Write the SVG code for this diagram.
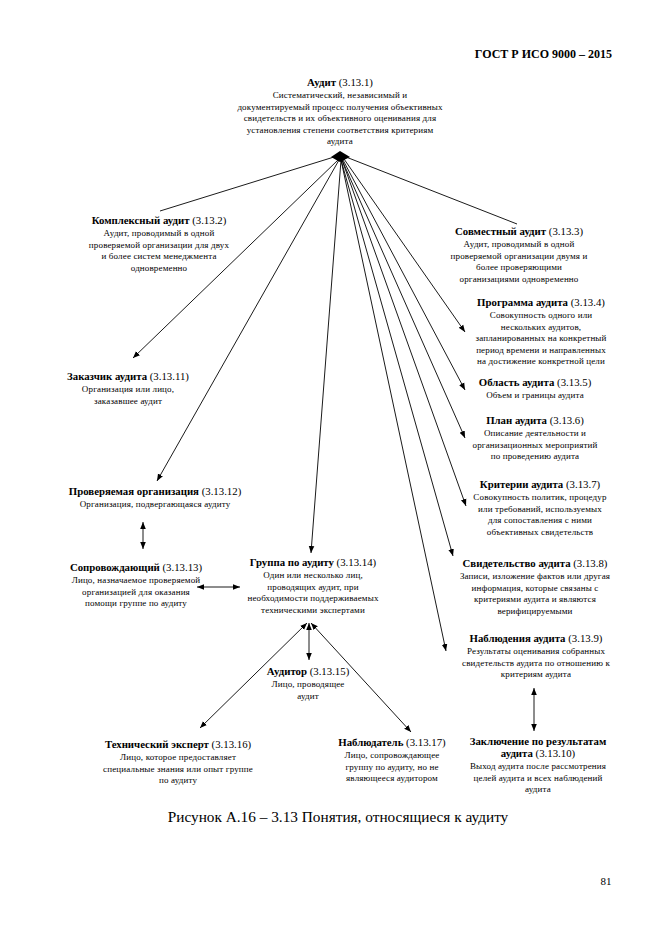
<svg xmlns="http://www.w3.org/2000/svg" width="661" height="935" viewBox="0 0 661 935">
<defs>
<marker id="ah" viewBox="0 0 10 10" refX="10" refY="5" markerWidth="7" markerHeight="7" orient="auto-start-reverse" markerUnits="userSpaceOnUse">
<path d="M0,1 L10,5 L0,9 z" fill="#000"/>
</marker>
<style>
text{font-family:"Liberation Serif","Times New Roman",serif;fill:#000;text-anchor:middle}
.t{font-size:10.8px}
.b{font-weight:bold}
.d{font-size:9px;letter-spacing:0.15px}
.hd{font-size:12px;font-weight:bold;text-anchor:end}
.cap{font-size:15.3px}
.pg{font-size:11px}
.c line{stroke:#000;stroke-width:0.9;fill:none}
.e{marker-end:url(#ah)}
.s{marker-start:url(#ah)}
</style>
</defs>
<rect width="661" height="935" fill="#fff"/>
<text class="hd" x="612" y="58">ГОСТ Р ИСО 9000 – 2015</text>

<g class="c" id="connectors">
<path d="M331,157 L340,151 L350,157 L340,162 z" fill="#000"/>
<line x1="334" y1="157" x2="160" y2="211"/>
<line class="e" x1="338" y1="160" x2="133" y2="358"/>
<line class="e" x1="339" y1="160" x2="157" y2="481"/>
<line class="e" x1="341" y1="160" x2="311" y2="553"/>
<line x1="346" y1="157" x2="517" y2="224"/>
<line class="e" x1="344" y1="159" x2="465" y2="332"/>
<line class="e" x1="343" y1="160" x2="465" y2="390"/>
<line class="e" x1="342" y1="160" x2="465" y2="438"/>
<line class="e" x1="342" y1="160" x2="466" y2="506"/>
<line class="e" x1="341" y1="160" x2="453" y2="556"/>
<line class="e" x1="341" y1="160" x2="446" y2="651"/>
<line class="e s" x1="143" y1="522" x2="143" y2="549"/>
<line class="e s" x1="197" y1="587" x2="240" y2="587"/>
<line class="e s" x1="307" y1="623" x2="200" y2="728"/>
<line class="e s" x1="309" y1="623" x2="309" y2="660"/>
<line class="e s" x1="311" y1="623" x2="411" y2="732"/>
<line class="e s" x1="534" y1="688" x2="534" y2="731"/>
</g>

<g id="n1">
<text class="t" x="340" y="86"><tspan class="b">Аудит</tspan> (3.13.1)</text>
<text class="d" x="340" y="98">Систематический, независимый и</text>
<text class="d" x="340" y="109.5">документируемый процесс получения объективных</text>
<text class="d" x="340" y="121">свидетельств и их объективного оценивания для</text>
<text class="d" x="340" y="132.5">установления степени соответствия критериям</text>
<text class="d" x="340" y="144">аудита</text>
</g>

<g id="n2">
<text class="t" x="159" y="224"><tspan class="b">Комплексный аудит</tspan> (3.13.2)</text>
<text class="d" x="159" y="236">Аудит, проводимый в одной</text>
<text class="d" x="159" y="247.5">проверяемой организации для двух</text>
<text class="d" x="159" y="259">и более систем менеджмента</text>
<text class="d" x="159" y="270.5">одновременно</text>
</g>

<g id="n3">
<text class="t" x="519" y="235"><tspan class="b">Совместный аудит</tspan> (3.13.3)</text>
<text class="d" x="519" y="247">Аудит, проводимый в одной</text>
<text class="d" x="519" y="258.5">проверяемой организации двумя и</text>
<text class="d" x="519" y="270">более проверяющими</text>
<text class="d" x="519" y="281.5">организациями одновременно</text>
</g>

<g id="n4">
<text class="t" x="541" y="306"><tspan class="b">Программа аудита</tspan> (3.13.4)</text>
<text class="d" x="541" y="318">Совокупность одного или</text>
<text class="d" x="541" y="329.5">нескольких аудитов,</text>
<text class="d" x="541" y="341">запланированных на конкретный</text>
<text class="d" x="541" y="352.5">период времени и направленных</text>
<text class="d" x="541" y="364">на достижение конкретной цели</text>
</g>

<g id="n5">
<text class="t" x="535" y="386"><tspan class="b">Область аудита</tspan> (3.13.5)</text>
<text class="d" x="535" y="398">Объем и границы аудита</text>
</g>

<g id="n6">
<text class="t" x="535" y="424"><tspan class="b">План аудита</tspan> (3.13.6)</text>
<text class="d" x="535" y="436">Описание деятельности и</text>
<text class="d" x="535" y="447.5">организационных мероприятий</text>
<text class="d" x="535" y="459">по проведению аудита</text>
</g>

<g id="n7">
<text class="t" x="540" y="488"><tspan class="b">Критерии аудита</tspan> (3.13.7)</text>
<text class="d" x="540" y="500">Совокупность политик, процедур</text>
<text class="d" x="540" y="511.5">или требований, используемых</text>
<text class="d" x="540" y="523">для сопоставления с ними</text>
<text class="d" x="540" y="534.5">объективных свидетельств</text>
</g>

<g id="n8">
<text class="t" x="535" y="567"><tspan class="b">Свидетельство аудита</tspan> (3.13.8)</text>
<text class="d" x="535" y="579">Записи, изложение фактов или другая</text>
<text class="d" x="535" y="590.5">информация, которые связаны с</text>
<text class="d" x="535" y="602">критериями аудита и являются</text>
<text class="d" x="535" y="613.5">верифицируемыми</text>
</g>

<g id="n9">
<text class="t" x="536" y="642"><tspan class="b">Наблюдения аудита</tspan> (3.13.9)</text>
<text class="d" x="536" y="654">Результаты оценивания собранных</text>
<text class="d" x="536" y="665.5">свидетельств аудита по отношению к</text>
<text class="d" x="536" y="677">критериям аудита</text>
</g>

<g id="n10">
<text class="t b" x="538" y="745">Заключение по результатам</text>
<text class="t" x="538" y="757"><tspan class="b">аудита</tspan> (3.13.10)</text>
<text class="d" x="538" y="769">Выход аудита после рассмотрения</text>
<text class="d" x="538" y="780.5">целей аудита и всех наблюдений</text>
<text class="d" x="538" y="792">аудита</text>
</g>

<g id="n11">
<text class="t" x="128" y="380"><tspan class="b">Заказчик аудита</tspan> (3.13.11)</text>
<text class="d" x="128" y="392">Организация или лицо,</text>
<text class="d" x="128" y="403.5">заказавшее аудит</text>
</g>

<g id="n12">
<text class="t" x="155" y="495"><tspan class="b">Проверяемая организация</tspan> (3.13.12)</text>
<text class="d" x="155" y="507">Организация, подвергающаяся аудиту</text>
</g>

<g id="n13">
<text class="t" x="136" y="571"><tspan class="b">Сопровождающий</tspan> (3.13.13)</text>
<text class="d" x="136" y="583">Лицо, назначаемое проверяемой</text>
<text class="d" x="136" y="594.5">организацией для оказания</text>
<text class="d" x="136" y="606">помощи группе по аудиту</text>
</g>

<g id="n14">
<text class="t" x="313" y="566"><tspan class="b">Группа по аудиту</tspan> (3.13.14)</text>
<text class="d" x="313" y="578">Один или несколько лиц,</text>
<text class="d" x="313" y="589.5">проводящих аудит, при</text>
<text class="d" x="313" y="601">необходимости поддерживаемых</text>
<text class="d" x="313" y="612.5">техническими экспертами</text>
</g>

<g id="n15">
<text class="t" x="308" y="675"><tspan class="b">Аудитор</tspan> (3.13.15)</text>
<text class="d" x="308" y="687">Лицо, проводящее</text>
<text class="d" x="308" y="698.5">аудит</text>
</g>

<g id="n16">
<text class="t" x="178" y="748"><tspan class="b">Технический эксперт</tspan> (3.13.16)</text>
<text class="d" x="178" y="760">Лицо, которое предоставляет</text>
<text class="d" x="178" y="771.5">специальные знания или опыт группе</text>
<text class="d" x="178" y="783">по аудиту</text>
</g>

<g id="n17">
<text class="t" x="392" y="746"><tspan class="b">Наблюдатель</tspan> (3.13.17)</text>
<text class="d" x="392" y="758">Лицо, сопровождающее</text>
<text class="d" x="392" y="769.5">группу по аудиту, но не</text>
<text class="d" x="392" y="781">являющееся аудитором</text>
</g>

<text class="cap" x="338" y="822">Рисунок А.16 – 3.13 Понятия, относящиеся к аудиту</text>
<text class="pg" x="606" y="885">81</text>
</svg>
